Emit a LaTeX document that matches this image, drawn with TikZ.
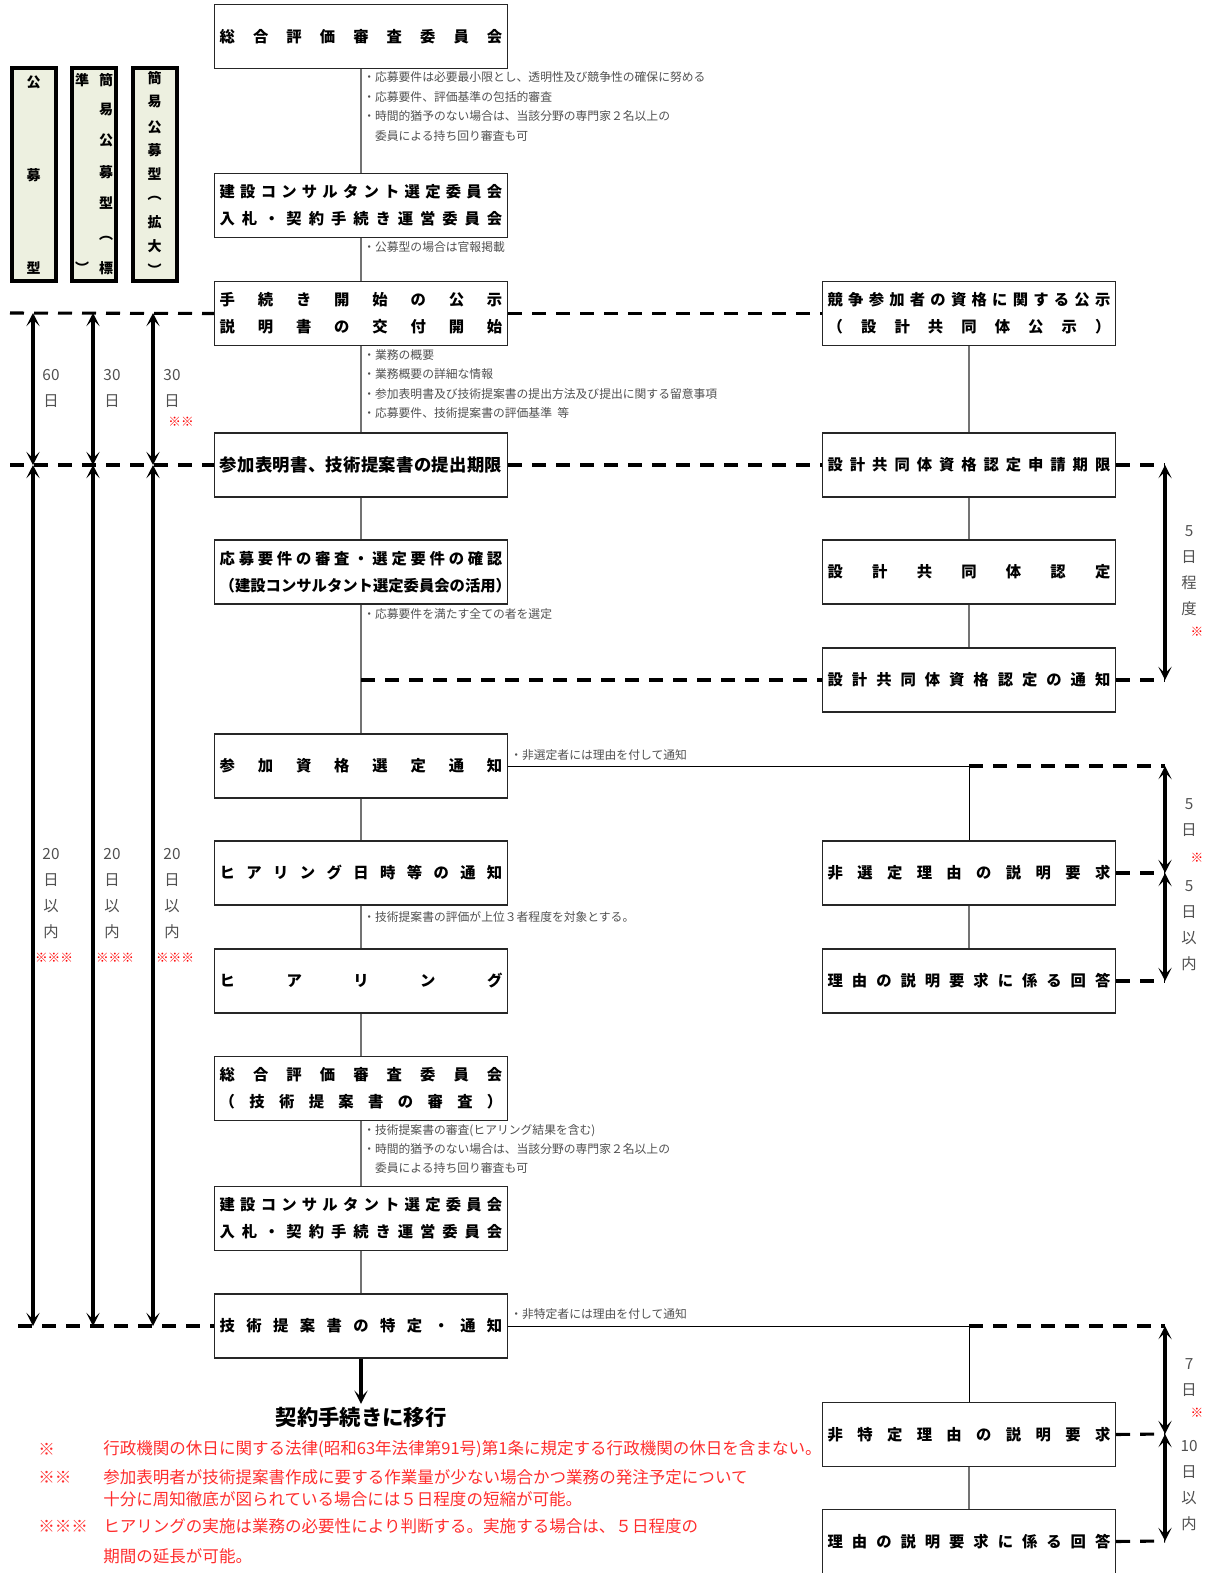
\documentclass[tikz,border=0pt]{standalone}
\usepackage{fontspec}
\setmainfont{Noto Sans CJK JP}
\usetikzlibrary{arrows.meta}

\definecolor{typefill}{RGB}{237,240,224}
\definecolor{notegray}{RGB}{80,80,80}
\definecolor{footred}{RGB}{255,45,45}
\definecolor{conngray}{RGB}{115,115,115}

% 文字を枠幅いっぱいに均等割り付け
\newlength\spreadwd
\setlength\spreadwd{212pt}
\def\spreadend{\relax}
\def\spreadtext#1{\makebox[\spreadwd][s]{\spreadfirst#1\spreadend}}
\def\spreadfirst#1{#1\spreadrest}
\def\spreadrest#1{\ifx#1\spreadend\else\hfill#1\expandafter\spreadrest\fi}
\newcommand\boxfont{\bfseries\fontsize{11.5}{20}\selectfont}

\begin{document}
\begin{tikzpicture}[x=0.75pt,y=-0.75pt,
  flowbox/.style={draw=black!85, line width=0.8pt, minimum width=293*0.75pt,
    minimum height=64*0.75pt, inner sep=0pt, font=\boxfont, align=center},
  typebox/.style={draw, line width=3pt, fill=typefill, minimum width=44*0.75pt,
    minimum height=212*0.75pt, inner sep=0pt},
  typech/.style={font=\bfseries\fontsize{10.5}{10.5}\selectfont, inner sep=0pt},
  note/.style={font=\fontsize{8.85}{14.6}\selectfont, text=notegray, align=left,
    anchor=west, inner sep=0pt},
  daylbl/.style={font=\fontsize{11.5}{19.5}\selectfont, text=notegray, align=center,
    inner sep=0pt},
  redmk/.style={font=\bfseries\fontsize{9.5}{9.5}\selectfont, text=red, inner sep=0pt},
  foot/.style={font=\fontsize{12.4}{12.4}\selectfont, text=footred, anchor=west,
    inner sep=0pt},
  conn/.style={draw=conngray, line width=0.9pt},
  hline/.style={draw=black, line width=0.75pt},
  dline/.style={line width=2.3pt, dash pattern=on 10.5pt off 7.5pt},
  darrow/.style={line width=2.3pt,
    {Stealth[length=10pt,width=10pt,inset=5pt]}-{Stealth[length=10pt,width=10pt,inset=5pt]}},
  bigarrow/.style={line width=2.3pt, -{Stealth[length=10pt,width=10pt,inset=5pt]}}]

\useasboundingbox (0,0) rectangle (1213,1573);

% 方式の区分
\node[typebox] (t1) at (33.5,174.5) {};
\foreach \ch/\y in {公/82,募/175,型/268}
  \node[typech] at (33.5,\y) {\ch};
\node[typebox] (t2) at (94,174.5) {};
\foreach \ch/\y in {簡/80,易/110,公/140,募/172,型/203,︵/238,標/268}
  \node[typech] at (106,\y) {\ch};
\foreach \ch/\y in {準/80,︶/268}
  \node[typech] at (82,\y) {\ch};
\node[typebox] (t3) at (154.5,174.5) {};
\foreach \ch/\y in {簡/78,易/102,公/127,募/150,型/174,︵/198,拡/222,大/246,︶/270}
  \node[typech] at (154.5,\y) {\ch};

% 主な流れ
\node[flowbox] (b1) at (361,36.5) {\spreadtext{総合評価審査委員会}};
\node[flowbox] (b2) at (361,205.5) {\spreadtext{建設コンサルタント選定委員会}\\\spreadtext{入札・契約手続き運営委員会}};
\node[flowbox] (b3) at (361,313.5) {\spreadtext{手続き開始の公示}\\\spreadtext{説明書の交付開始}};
\node[flowbox] (b4) at (361,465) {\fontsize{13}{20}\selectfont\spreadtext{参加表明書、技術提案書の提出期限}};
\node[flowbox] (b5) at (361,572) {\spreadtext{応募要件の審査・選定要件の確認}\\\spreadtext{（建設コンサルタント選定委員会の活用）}};
\node[flowbox] (b6) at (361,766) {\spreadtext{参加資格選定通知}};
\node[flowbox] (b7) at (361,873) {\spreadtext{ヒアリング日時等の通知}};
\node[flowbox] (b8) at (361,981) {\spreadtext{ヒアリング}};
\node[flowbox] (b9) at (361,1088.5) {\spreadtext{総合評価審査委員会}\\\spreadtext{（技術提案書の審査）}};
\node[flowbox] (b10) at (361,1218.5) {\spreadtext{建設コンサルタント選定委員会}\\\spreadtext{入札・契約手続き運営委員会}};
\node[flowbox] (b11) at (361,1326) {\spreadtext{技術提案書の特定・通知}};
\node[font=\bfseries\fontsize{16}{16}\selectfont, inner sep=2pt] (move) at (361,1417) {契約手続きに移行};

% 設計共同体・説明要求の流れ
\node[flowbox] (r1) at (969,313.5) {\spreadtext{競争参加者の資格に関する公示}\\\spreadtext{（設計共同体公示）}};
\node[flowbox] (r2) at (969,465) {\spreadtext{設計共同体資格認定申請期限}};
\node[flowbox] (r3) at (969,572) {\spreadtext{設計共同体認定}};
\node[flowbox] (r4) at (969,680) {\spreadtext{設計共同体資格認定の通知}};
\node[flowbox] (r5) at (969,873) {\spreadtext{非選定理由の説明要求}};
\node[flowbox] (r6) at (969,981) {\spreadtext{理由の説明要求に係る回答}};
\node[flowbox] (r7) at (969,1434.5) {\spreadtext{非特定理由の説明要求}};
\node[flowbox] (r8) at (969,1541.5) {\spreadtext{理由の説明要求に係る回答}};

% 注記
\node[note] at (363,106.5) {・応募要件は必要最小限とし、透明性及び競争性の確保に努める\\・応募要件、評価基準の包括的審査\\・時間的猶予のない場合は、当該分野の専門家２名以上の\\\phantom{・}委員による持ち回り審査も可};
\node[note] at (363,247) {・公募型の場合は官報掲載};
\node[note] at (363,384) {・業務の概要\\・業務概要の詳細な情報\\・参加表明書及び技術提案書の提出方法及び提出に関する留意事項\\・応募要件、技術提案書の評価基準\ \ 等};
\node[note] at (363,614) {・応募要件を満たす全ての者を選定};
\node[note] at (510,755) {・非選定者には理由を付して通知};
\node[note] at (363,917) {・技術提案書の評価が上位３者程度を対象とする。};
\node[note] at (363,1149) {・技術提案書の審査(ヒアリング結果を含む)\\・時間的猶予のない場合は、当該分野の専門家２名以上の\\\phantom{・}委員による持ち回り審査も可};
\node[note] at (510,1314) {・非特定者には理由を付して通知};

% 接続線
\foreach \a/\b in {b1/b2,b2/b3,b3/b4,b4/b5,b5/b6,b6/b7,b7/b8,b8/b9,b9/b10,b10/b11,
  r1/r2,r2/r3,r3/r4,r5/r6,r7/r8}
  \draw[conn] (\a) -- (\b);
\draw[hline] (b6.east) -- (b6.east -| r5.north) -- (r5.north);
\draw[hline] (b11.east) -- (b11.east -| r7.north) -- (r7.north);
\draw[bigarrow] (b11.south) -- (move.north);

% 期限の区切り（破線）
\coordinate (d3) at (10,313);
\coordinate (d4) at (10,465);
\coordinate (d11) at (18,1326);
\coordinate (j5) at (361,680);
\coordinate (j6) at (b6.east -| r5.north);
\coordinate (j11) at (b11.east -| r7.north);
\coordinate (q4) at (1165,465);
\coordinate (q5) at (1165,680);
\coordinate (q6) at (1165,766);
\coordinate (q7) at (1165,873);
\coordinate (q8) at (1165,981);
\coordinate (q11) at (1165,1326);
\coordinate (q12) at (1165,1434);
\coordinate (q13) at (1165,1541);
\draw[dline] (d3) -- (b3.west);
\draw[dline] (b3.east) -- (r1.west);
\draw[dline] (d4) -- (b4.west);
\draw[dline] (b4.east) -- (r2.west);
\draw[dline] (r2.east) -- (q4);
\draw[dline] (j5) -- (r4.west);
\draw[dline] (r4.east) -- (q5);
\draw[dline] (j6) -- (q6);
\draw[dline] (r5.east) -- (q7);
\draw[dline] (r6.east) -- (q8);
\draw[dline] (d11) -- (b11.west);
\draw[dline] (j11) -- (q11);
\draw[dline] (r7.east) -- (q12);
\draw[dline] (r8.east) -- (q13);

% 日数の矢印
\foreach \x [count=\i] in {33,93,153}{
  \coordinate (s\i) at (\x,313);
  \coordinate (m\i) at (\x,465);
  \coordinate (e\i) at (\x,1326);
  \draw[darrow] (s\i) -- (m\i);
  \draw[darrow] (m\i) -- (e\i);
}
\draw[darrow] (q4) -- (q5);
\draw[darrow] (q6) -- (q7);
\draw[darrow] (q7) -- (q8);
\draw[darrow] (q11) -- (q12);
\draw[darrow] (q12) -- (q13);

% 日数
\node[daylbl] at (51,388) {60\\日};
\node[daylbl] at (112,388) {30\\日};
\node[daylbl] at (172,388) {30\\日};
\node[redmk] at (181,422) {※※};
\foreach \x in {51,112,172}{
  \node[daylbl] at (\x,894) {20\\日\\以\\内};
  \node[redmk] at (\x+3,958) {※※※};
}
\node[daylbl] at (1189,571) {5\\日\\程\\度};
\node[redmk] at (1197,632) {※};
\node[daylbl] at (1189,818) {5\\日};
\node[redmk] at (1197,858) {※};
\node[daylbl] at (1189,926) {5\\日\\以\\内};
\node[daylbl] at (1189,1378) {7\\日};
\node[redmk] at (1197,1413) {※};
\node[daylbl] at (1189,1486) {10\\日\\以\\内};

% 脚注
\node[foot] at (38,1449) {※};
\node[foot] at (103,1449) {行政機関の休日に関する法律(昭和63年法律第91号)第1条に規定する行政機関の休日を含まない。};
\node[foot] at (38,1477) {※※};
\node[foot] at (103,1477) {参加表明者が技術提案書作成に要する作業量が少ない場合かつ業務の発注予定について};
\node[foot] at (103,1499) {十分に周知徹底が図られている場合には５日程度の短縮が可能。};
\node[foot] at (38,1526) {※※※};
\node[foot] at (103,1526) {ヒアリングの実施は業務の必要性により判断する。実施する場合は、５日程度の};
\node[foot] at (103,1556) {期間の延長が可能。};

\end{tikzpicture}
\end{document}
